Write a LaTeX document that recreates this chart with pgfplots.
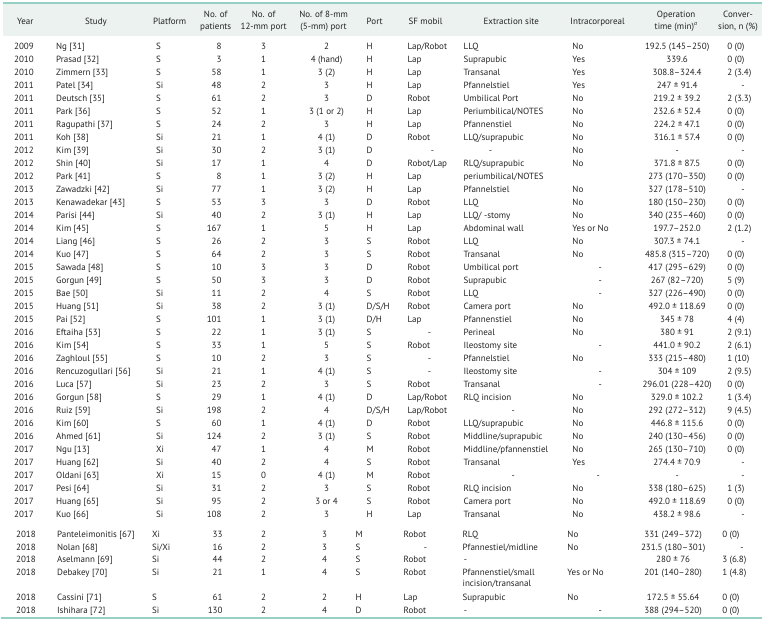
\documentclass[border=0pt]{standalone}
\usepackage{pgfplots}
\usepackage{pgfplotstable}
\pgfplotsset{compat=1.18}
\usepackage{fontspec}
\setmainfont{PT Sans}

\definecolor{rulecol}{RGB}{150,208,196}
\definecolor{headbg}{RGB}{236,242,240}
\definecolor{txt}{RGB}{35,35,35}
\newcommand{\tf}{\fontsize{9}{11}\selectfont}

% rows 2009-2017 (y = text baseline, px from top)
\pgfplotstableread[col sep=semicolon]{
y;year;study;plat;n;p12;p8;port;sf;site;intra;time;conv
50;2009;Ng [31];S;8;3;2;H;Lap/Robot;LLQ;No;192.5 (145–250);0 (0)
63;2010;Prasad [32];S;3;1;4 (hand);H;Lap;Suprapubic;Yes;339.6;0 (0)
76;2010;Zimmern [33];S;58;1;3 (2);H;Lap;Transanal;Yes;308.8–324.4;2 (3.4)
89;2011;Patel [34];Si;48;2;3;H;Lap;Pfannelstiel;Yes;247 ± 91.4;
102;2011;Deutsch [35];S;61;2;3;D;Robot;Umbilical Port;No;219.2 ± 39.2;2 (3.3)
115;2011;Park [36];S;52;1;3 (1 or 2);H;Lap;Periumbilical/NOTES;No;232.6 ± 52.4;0 (0)
128;2011;Ragupathi [37];S;24;2;3;H;Lap;Pfannenstiel;No;224.2 ± 47.1;0 (0)
141;2011;Koh [38];Si;21;1;4 (1);D;Robot;LLQ/suprapubic;No;316.1 ± 57.4;0 (0)
154;2012;Kim [39];Si;30;2;3 (1);D;;;No;-;
167;2012;Shin [40];Si;17;1;4;D;Robot/Lap;RLQ/suprapubic;No;371.8 ± 87.5;0 (0)
180;2012;Park [41];S;8;1;3 (2);H;Lap;periumbilical/NOTES;;273 (170–350);0 (0)
193;2013;Zawadzki [42];Si;77;1;3 (2);H;Lap;Pfannelstiel;No;327 (178–510);
206;2013;Kenawadekar [43];S;53;3;3;D;Robot;LLQ;No;180 (150–230);0 (0)
219;2014;Parisi [44];Si;40;2;3 (1);H;Lap;LLQ/ -stomy;No;340 (235–460);0 (0)
232;2014;Kim [45];S;167;1;5;H;Lap;Abdominal wall;Yes or No;197.7–252.0;2 (1.2)
245;2014;Liang [46];S;26;2;3;S;Robot;LLQ;No;307.3 ± 74.1;
258;2014;Kuo [47];S;64;2;3;S;Robot;Transanal;No;485.8 (315–720);0 (0)
271;2015;Sawada [48];S;10;3;3;D;Robot;Umbilical port;;417 (295–629);0 (0)
284;2015;Gorgun [49];S;50;3;3;D;Robot;Suprapubic;;267 (82–720);5 (9)
297;2015;Bae [50];Si;11;2;4;S;Robot;LLQ;;327 (226–490);0 (0)
310;2015;Huang [51];Si;38;2;3 (1);D/S/H;Robot;Camera port;No;492.0 ± 118.69;0 (0)
323;2015;Pai [52];S;101;1;3 (1);D/H;Lap;Pfannenstiel;No;345 ± 78;4 (4)
336;2016;Eftaiha [53];S;22;1;3 (1);S;;Perineal;No;380 ± 91;2 (9.1)
349;2016;Kim [54];S;33;1;5;S;Robot;Ileostomy site;;441.0 ± 90.2;2 (6.1)
362;2016;Zaghloul [55];S;10;2;3;S;;Pfannelstiel;No;333 (215–480);1 (10)
375;2016;Rencuzogullari [56];Si;21;1;4 (1);S;;Ileostomy site;;304 ± 109;2 (9.5)
388;2016;Luca [57];Si;23;2;3;S;Robot;Transanal;;296.01 (228–420);0 (0)
401;2016;Gorgun [58];S;29;1;4 (1);D;Lap/Robot;RLQ incision;No;329.0 ± 102.2;1 (3.4)
414;2016;Ruiz [59];Si;198;2;4;D/S/H;Lap/Robot;;No;292 (272–312);9 (4.5)
427;2016;Kim [60];S;60;1;4 (1);D;Robot;LLQ/suprapubic;No;446.8 ± 115.6;0 (0)
440;2016;Ahmed [61];Si;124;2;3 (1);S;Robot;Middline/suprapubic;No;240 (130–456);0 (0)
453;2017;Ngu [13];Xi;47;1;4;M;Robot;Middline/pfannenstiel;No;265 (130–710);0 (0)
466;2017;Huang [62];Si;40;2;4;S;Robot;Transanal;Yes;274.4 ± 70.9;
479;2017;Oldani [63];Xi;15;0;4 (1);M;Robot;;;-;
492;2017;Pesi [64];Si;31;2;3;S;Robot;RLQ incision;No;338 (180–625);1 (3)
505;2017;Huang [65];Si;95;2;3 or 4;S;Robot;Camera port;No;492.0 ± 118.69;0 (0)
518;2017;Kuo [66];Si;108;2;3;H;Lap;Transanal;No;438.2 ± 98.6;
}\blockA

% rows 2018
\pgfplotstableread[col sep=semicolon]{
y;year;study;plat;n;p12;p8;port;sf;site;intra;time;conv
538.5;2018;Panteleimonitis [67];Xi;33;2;3;M;Robot;RLQ;No;331 (249–372);0 (0)
551;2018;Nolan [68];Si/Xi;16;2;3;S;;Pfannestiel/midline;No;231.5 (180–301);
563.5;2018;Aselmann [69];Si;44;2;4;S;Robot;;;280 ± 76;3 (6.8)
576;2018;Debakey [70];Si;21;1;4;S;Robot;Pfannenstiel/small;Yes or No;201 (140–280);1 (4.8)
587.5;;;;;;;;;incision/transanal;;;
601.5;2018;Cassini [71];S;61;2;2;H;Lap;Suprapubic;No;172.5 ± 55.64;0 (0)
614;2018;Ishihara [72];Si;130;2;4;D;Robot;;;388 (294–520);0 (0)
}\blockB

% dashes for missing entries
\pgfplotstableread[col sep=semicolon]{
x;y;t
743;89;-
743;154;-
743;193;-
743;245;-
743;466;-
743;479;-
743;518;-
742;551;-
432;154;-
429;336;-
429;362;-
429;375;-
425;551;-
490;154;-
513;414;-
513;479;-
465;563.5;-
465;614;-
600;271;-
600;284;-
600;297;-
600;349;-
600;375;-
600;388;-
598;479;-
600;614;-
}\dashes

\pgfplotsset{cell/.style={draw=none, mark=none, nodes near coords,
  point meta=explicit symbolic,
  every node near coord/.append style={anchor=#1, inner sep=0pt, font=\tf, text=txt}}}
\newcommand{\col}[4]{\addplot[cell=#4] table[x expr=#3, y=y, meta=#2] {#1};}

\begin{document}
\begin{tikzpicture}
\begin{axis}[scale only axis, width=774pt, height=621pt,
  xmin=0, xmax=774, ymin=0, ymax=621, y dir=reverse,
  hide axis, clip=false]
\path (axis cs:0,0) rectangle (axis cs:774,621);
\fill[headbg] (axis cs:2,3) rectangle (axis cs:762,36);
\draw[rulecol, line width=2pt] (axis cs:2,3) -- (axis cs:762,3);
\draw[rulecol, line width=2pt] (axis cs:0,619) -- (axis cs:762,619);

% header
\begin{scope}[every node/.style={inner sep=0pt, font=\tf, text=txt}]
\node[anchor=base west] at (axis cs:16,25) {Year};
\node[anchor=base west] at (axis cs:84,25) {Study};
\node[anchor=base west] at (axis cs:152,25) {Platform};
\node[anchor=base] at (axis cs:215,18) {No. of};
\node[anchor=base] at (axis cs:215,29.5) {patients};
\node[anchor=base] at (axis cs:263,18) {No. of};
\node[anchor=base] at (axis cs:263,29.5) {12-mm port};
\node[anchor=base] at (axis cs:323,18) {No. of 8-mm};
\node[anchor=base] at (axis cs:323,29.5) {(5-mm) port};
\node[anchor=base west] at (axis cs:366,25) {Port};
\node[anchor=base west] at (axis cs:408,25) {SF mobil};
\node[anchor=base west] at (axis cs:483,25) {Extraction site};
\node[anchor=base west] at (axis cs:570,25) {Intracorporeal};
\node[anchor=base] at (axis cs:676,18) {Operation};
\node[anchor=base] at (axis cs:676,29.5) {time (min)\textsuperscript{\itshape a}};
\node[anchor=base] at (axis cs:738,18) {Conver-};
\node[anchor=base] at (axis cs:738,29.5) {sion, n (\%)};
\end{scope}

% block A
\col{\blockA}{year}{13}{base west}
\col{\blockA}{study}{55}{base west}
\col{\blockA}{plat}{155}{base west}
\col{\blockA}{n}{221}{base east}
\col{\blockA}{p12}{263}{base}
\col{\blockA}{p8}{326}{base}
\col{\blockA}{port}{366}{base west}
\col{\blockA}{sf}{407}{base west}
\col{\blockA}{site}{463}{base west}
\col{\blockA}{intra}{572}{base west}
\col{\blockA}{time}{677}{base}
\col{\blockA}{conv}{727}{base west}
% block B
\col{\blockB}{year}{15}{base west}
\col{\blockB}{study}{56}{base west}
\col{\blockB}{plat}{151}{base west}
\col{\blockB}{n}{222}{base east}
\col{\blockB}{p12}{263}{base}
\col{\blockB}{p8}{324}{base}
\col{\blockB}{port}{355}{base west}
\col{\blockB}{sf}{403}{base west}
\col{\blockB}{site}{462}{base west}
\col{\blockB}{intra}{567}{base west}
\col{\blockB}{time}{673}{base}
\col{\blockB}{conv}{722}{base west}
% dashes
\addplot[cell=base] table[x=x, y=y, meta=t] {\dashes};
\end{axis}
\end{tikzpicture}
\end{document}
